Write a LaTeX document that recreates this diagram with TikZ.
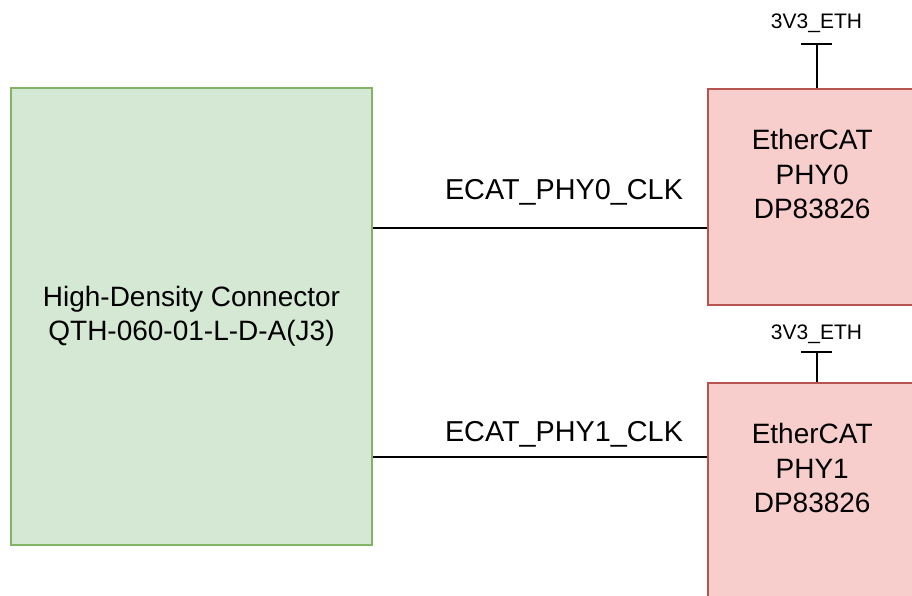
\documentclass[tikz,border=0pt]{standalone}
\usepackage{fontspec}
\setmainfont{Liberation Sans}
\usetikzlibrary{positioning,calc}
\definecolor{connfill}{HTML}{D5E8D4}
\definecolor{conndraw}{HTML}{82B366}
\definecolor{phyfill}{HTML}{F8CECC}
\definecolor{phydraw}{HTML}{B85450}

\begin{document}
\begin{tikzpicture}[x=1pt, y=-1pt,
  font=\fontsize{28}{34.5}\selectfont,
  connbox/.style={draw=conndraw, fill=connfill, line width=2pt, minimum width=361pt, minimum height=457pt, align=center, inner sep=0pt},
  phybox/.style={draw=phydraw, fill=phyfill, line width=2pt, minimum width=217pt, minimum height=216pt, inner sep=0pt},
  phytext/.style={align=center, inner sep=0pt},
  clkname/.style={font=\fontsize{28.8}{34}\selectfont, anchor=base, midway, inner sep=0pt},
  railname/.style={font=\fontsize{21}{25}\selectfont, anchor=base, inner sep=0pt},
  wire/.style={line width=2pt}]
    \useasboundingbox (0,0) rectangle (912,596);
    \clip (0,0) rectangle (912,596);
    %
    \node[connbox] (conn) at (191.5,316.5) {High-Density Connector\\QTH-060-01-L-D-A(J3)};
    \node[phybox] (phy0) at (816.5,197) {};
    \node[phybox] (phy1) at (816.5,491) {};
    \node[phytext] (phy0txt) at ([xshift=-4.3pt,yshift=23pt]phy0.center) {EtherCAT\\PHY0\\DP83826};
    \node[phytext] (phy1txt) at ([xshift=-4.3pt,yshift=23pt]phy1.center) {EtherCAT\\PHY1\\DP83826};
    %
    \coordinate (clk0) at ([yshift=-31pt]phy0.west);
    \coordinate (clk1) at ([yshift=34pt]phy1.west);
    \draw[wire] (conn.east |- clk0) -- node[clkname,xshift=24pt,yshift=28pt]{ECAT\_PHY0\_CLK} (clk0);
    \draw[wire] (conn.east |- clk1) -- node[clkname,xshift=24pt,yshift=16pt]{ECAT\_PHY1\_CLK} (clk1);
    %
    \coordinate (vcc0) at ([yshift=44pt]phy0.north);
    \coordinate (vcc1) at ([yshift=30.3pt]phy1.north);
    \draw[wire] (phy0.north) -- (vcc0);
    \draw[wire] ([xshift=-15.5pt]vcc0) -- ([xshift=15.5pt]vcc0);
    \draw[wire] (phy1.north) -- (vcc1);
    \draw[wire] ([xshift=-15.5pt]vcc1) -- ([xshift=15.5pt]vcc1);
    \node[railname] (vcc0lbl) at ([yshift=15pt]vcc0) {3V3\_ETH};
    \node[railname] (vcc1lbl) at ([yshift=12.7pt]vcc1) {3V3\_ETH};
  \end{tikzpicture}
\end{document}
